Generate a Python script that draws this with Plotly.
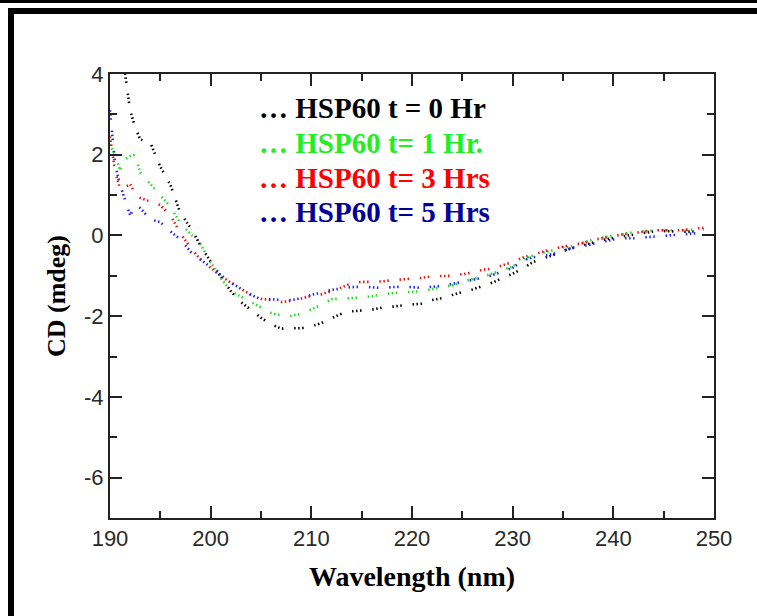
import plotly.graph_objects as go

# ---------------- data ----------------
wavelength = [190, 190.5, 191, 191.5, 192, 192.5, 193] + list(range(194, 250))

cd_0hr = [6.5, 5.8, 5.0, 4.0, 3.1, 2.68, 2.38,
          2.3, 1.7, 1.25, 0.55, 0.19, -0.25, -0.65, -1.03, -1.38, -1.65,
          -1.85, -2.04, -2.2, -2.31, -2.3, -2.3, -2.25, -2.17, -2.05, -1.94,
          -1.88, -1.86, -1.84, -1.79, -1.76, -1.74, -1.71, -1.69, -1.6, -1.55,
          -1.47, -1.4, -1.34, -1.25, -1.17, -1.05, -0.95, -0.82, -0.66, -0.57,
          -0.49, -0.38, -0.31, -0.25, -0.17, -0.11, -0.06, -0.02, 0.01, 0.06,
          0.1, 0.11, 0.1, 0.09, 0.1, 0.13]

cd_1hr = [2.25, 2.0, 1.62, 1.89, 1.97, 2.0, 1.56,
          1.28, 1.0, 0.71, 0.3, 0.05, -0.22, -0.67, -1.05, -1.38, -1.52,
          -1.65, -1.78, -1.92, -1.98, -1.99, -1.94, -1.83, -1.72, -1.58, -1.56,
          -1.55, -1.54, -1.5, -1.46, -1.43, -1.41, -1.39, -1.38, -1.33, -1.27,
          -1.24, -1.15, -1.08, -1.02, -0.94, -0.85, -0.77, -0.6, -0.5, -0.43,
          -0.37, -0.3, -0.26, -0.18, -0.1, -0.05, -0.01, 0.03, 0.08, 0.1,
          0.13, 0.13, 0.13, 0.13, 0.15, 0.15]

cd_3hr = [2.45, 1.6, 1.15, 1.2, 1.27, 1.04, 0.93,
          0.83, 0.75, 0.5, 0.05, -0.3, -0.6, -0.8, -1.0, -1.17, -1.33,
          -1.47, -1.57, -1.6, -1.65, -1.62, -1.56, -1.5, -1.46, -1.38, -1.29,
          -1.18, -1.15, -1.15, -1.14, -1.11, -1.09, -1.06, -1.05, -1.01, -1.0,
          -1.0, -0.96, -0.92, -0.85, -0.82, -0.74, -0.66, -0.55, -0.47, -0.39,
          -0.33, -0.28, -0.23, -0.19, -0.11, -0.06, -0.01, 0.03, 0.06, 0.1,
          0.13, 0.13, 0.13, 0.13, 0.17, 0.19]

cd_5hr = [3.1, 1.75, 1.25, 0.85, 0.5, 0.72, 0.68,
          0.4, 0.33, 0.1, -0.1, -0.4, -0.6, -0.78, -0.98, -1.17, -1.33,
          -1.47, -1.58, -1.58, -1.6, -1.6, -1.56, -1.47, -1.42, -1.35, -1.31,
          -1.28, -1.27, -1.28, -1.3, -1.28, -1.27, -1.28, -1.3, -1.27, -1.25,
          -1.2, -1.15, -1.09, -1.05, -0.98, -0.9, -0.8, -0.62, -0.54, -0.51,
          -0.46, -0.38, -0.3, -0.26, -0.21, -0.16, -0.1, -0.07, -0.07, -0.05,
          -0.03, -0.01, 0.02, 0.03, 0.05, 0.06]

series_names = ["HSP60 t = 0 Hr", "HSP60 t= 1 Hr.", "HSP60 t= 3 Hrs", "HSP60 t= 5 Hrs"]
line_colors = ["#000000", "#22dd22", "#ee1111", "#2222ff"]
label_colors = ["#000000", "#22ee22", "#ff0000", "#000099"]

x_ticks = [190, 200, 210, 220, 230, 240, 250]
x_tick_labels = ["190", "200", "210", "220", "230", "240", "250"]
y_ticks = [-6, -4, -2, 0, 2, 4]
y_tick_labels = ["-6", "-4", "-2", "0", "2", "4"]

# ---------------- figure ----------------
W, H = 757, 616
L, R, T, B = 110, 43, 74, 98
PW, PH = W - L - R, H - T - B


def fx(px):
    return (px - L) / PW


def fy(py):
    return (H - B - py) / PH


fig = go.Figure()
dash = "1.5px,2.5px,1.5px,2.5px,1.5px,10.8px"
for name, vals, col in zip(series_names, [cd_0hr, cd_1hr, cd_3hr, cd_5hr], line_colors):
    fig.add_trace(go.Scatter(x=wavelength, y=vals, mode="lines", name=name,
                             line=dict(color=col, width=2.6, dash=dash),
                             showlegend=False))

tick_font = dict(family="Liberation Sans, Arial, sans-serif", size=22, color="#2a2a2a")
serif = "Liberation Serif, Times New Roman, serif"

fig.update_xaxes(range=[190, 250], tickvals=x_ticks, ticktext=x_tick_labels,
                 ticks="inside", ticklen=12,
                 tickwidth=2, tickcolor="#222", showline=True, linewidth=2,
                 linecolor="#222", mirror="allticks", showgrid=False, zeroline=False,
                 minor=dict(ticks="inside", ticklen=7, tickwidth=2, tickcolor="#222",
                            dtick=5, tick0=190, showgrid=False),
                 tickfont=tick_font,
                 title=dict(text="<b>Wavelength (nm)</b>",
                            font=dict(family=serif, size=28, color="#000"), standoff=16))
fig.update_yaxes(range=[-7, 4], tickvals=y_ticks, ticktext=y_tick_labels,
                 ticks="inside", ticklen=12,
                 tickwidth=2, tickcolor="#222", showline=True, linewidth=2,
                 linecolor="#222", mirror="allticks", showgrid=False, zeroline=False,
                 minor=dict(ticks="inside", ticklen=7, tickwidth=2, tickcolor="#222",
                            dtick=1, tick0=0, showgrid=False),
                 tickfont=tick_font,
                 title=dict(text="<b>CD (mdeg)</b>",
                            font=dict(family=serif, size=26, color="#000"),
                            standoff=11))

# legend drawn as coloured text lines
legend_y = [108, 143, 178, 212]
for name, col, py in zip(series_names, label_colors, legend_y):
    fig.add_annotation(xref="paper", yref="paper", x=fx(257), y=fy(py),
                       xanchor="left", yanchor="middle", showarrow=False,
                       text="<b>\u2026 " + name + "</b>",
                       font=dict(family=serif, size=29, color=col))

# page frame lines
shapes = [
    dict(type="line", xref="paper", yref="paper", x0=fx(0), x1=fx(W), y0=fy(1.5), y1=fy(1.5),
         line=dict(color="#000", width=3)),
    dict(type="line", xref="paper", yref="paper", x0=fx(8), x1=fx(W), y0=fy(11), y1=fy(11),
         line=dict(color="#000", width=6)),
    dict(type="line", xref="paper", yref="paper", x0=fx(11), x1=fx(11), y0=fy(8), y1=fy(H),
         line=dict(color="#000", width=6)),
]
fig.update_layout(width=W, height=H, margin=dict(l=L, r=R, t=T, b=B),
                  paper_bgcolor="white", plot_bgcolor="white", shapes=shapes,
                  hovermode=False)

fig.write_html("out.html", config={"displayModeBar": False},
               post_script="document.body.style.margin='0';document.body.style.overflow='hidden';")
